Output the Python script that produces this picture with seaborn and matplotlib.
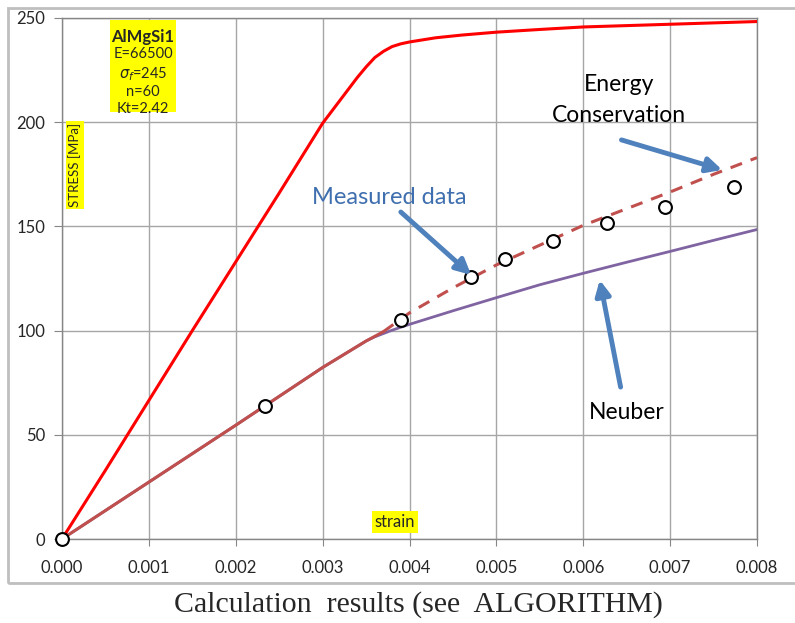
import numpy as np
import pandas as pd
import matplotlib
matplotlib.use("Agg")
import matplotlib.pyplot as plt
import seaborn as sns
from matplotlib.patches import Rectangle

# Data

# material curve (red)
mat_strain = [0, 0.0005, 0.001, 0.0015, 0.002, 0.0025, 0.003, 0.0032, 0.0033, 0.0034, 0.0035,
              0.0036, 0.0037, 0.0038, 0.0039, 0.004, 0.0043, 0.0046, 0.005, 0.0055, 0.006, 0.007, 0.008]
mat_stress = [0, 33, 66.5, 100, 133, 166, 199.5, 210.5, 216, 221.5, 226.5,
              231, 234, 236.3, 237.6, 238.5, 240.5, 241.8, 243.2, 244.5, 245.7, 247, 248.3]

# energy conservation (brown, solid then dashed)
ec_strain = [0, 0.001, 0.002, 0.003, 0.0035, 0.0037, 0.004, 0.0045, 0.005, 0.0055,
             0.006, 0.0065, 0.007, 0.0075, 0.008]
ec_stress = [0, 27.3, 54.6, 82.3, 95, 99.5, 108.5, 120.5, 131.5, 141,
             150.5, 158.5, 166.5, 175, 183]
ec_split = 0.0037

# Neuber (purple)
nb_strain = [0, 0.001, 0.002, 0.003, 0.0035, 0.0036, 0.0038, 0.004, 0.0045, 0.005, 0.0055,
             0.006, 0.0065, 0.007, 0.0075, 0.008]
nb_stress = [0, 27.3, 54.6, 82.3, 95, 97, 100.2, 103, 109.5, 115.8, 122,
             127.5, 132.8, 138, 143.3, 148.5]

# measured points
meas_strain = [0, 0.00234, 0.0039, 0.00471, 0.0051, 0.00565, 0.00627, 0.00694, 0.00774]
meas_stress = [0, 63.8, 105, 125.7, 134.4, 143, 151.6, 159.3, 168.9]

x_ticks = [0, 0.001, 0.002, 0.003, 0.004, 0.005, 0.006, 0.007, 0.008]
y_ticks = [0, 50, 100, 150, 200, 250]

mat_props = ["AlMgSi1", "E=66500", r"$\sigma_f$=245", "n=60", "Kt=2.42"]

# Plot

sns.set_style("white")
plt.rcParams['font.family'] = ['Lato', 'DejaVu Sans']
plt.rcParams['mathtext.fontset'] = 'dejavusans'

fig = plt.figure(figsize=(7.95, 6.23), dpi=100)
ax = fig.add_axes([62/795, 84/623, 695/795, 521/623])

# chart frame
fig.patches.append(Rectangle((8/795, 40/623), 1.1, 575/623, transform=fig.transFigure,
                             fill=False, edgecolor="#BFBFBF", linewidth=2, zorder=0))

ec = pd.DataFrame({"strain": ec_strain, "stress": ec_stress})
ec_solid = ec[ec.strain <= ec_split]
ec_dash = ec[ec.strain >= ec_split]

sns.lineplot(x=nb_strain, y=nb_stress, color="#8064A2", linewidth=2, ax=ax, zorder=3)
sns.lineplot(data=ec_solid, x="strain", y="stress", color="#C0504D", linewidth=2.2, ax=ax, zorder=4)
sns.lineplot(data=ec_dash, x="strain", y="stress", color="#C0504D", linewidth=2.2,
             dashes=False, ax=ax, zorder=4, linestyle=(0, (4, 3)))
sns.lineplot(x=mat_strain, y=mat_stress, color="#FF0000", linewidth=2.2, ax=ax, zorder=5)
sns.scatterplot(x=meas_strain, y=meas_stress, s=85, facecolor="white", edgecolor="black",
                linewidth=1.5, ax=ax, zorder=6, clip_on=False)

ax.set_xlim(0, 0.008)
ax.set_ylim(0, 250)
ax.set_xticks(x_ticks)
ax.set_xticklabels([f"{t:.3f}" for t in x_ticks])
ax.set_yticks(y_ticks)
ax.set_xlabel("")
ax.set_ylabel("")
ax.grid(True, color="#A6A6A6", linewidth=1)
for s in ax.spines.values():
    s.set_color("#868686")
    s.set_linewidth(1)
ax.tick_params(axis="x", direction="out", length=5, color="#868686", pad=10, labelsize=12)
ax.tick_params(axis="y", direction="out", length=6, color="#868686", pad=6, labelsize=12)
ax.tick_params(bottom=True, left=True)

# annotations
arrow = dict(arrowstyle="-|>,head_length=0.9,head_width=0.45", color="#4F81BD", lw=3.5,
             shrinkA=0, shrinkB=0)
ax.annotate("", xy=(0.00471, 126.7), xytext=(0.0039, 156.9), arrowprops=arrow, zorder=7)
ax.annotate("", xy=(0.0076, 177.1), xytext=(0.00644, 191.5), arrowprops=arrow, zorder=7)
ax.annotate("", xy=(0.00619, 124.3), xytext=(0.00643, 72.9), arrowprops=arrow, zorder=7)

ax.text(0.00641, 210.6, "Energy\nConservation", ha="center", va="center", fontsize=16.5,
        linespacing=1.55, color="black")
ax.text(0.003765, 164.1, "Measured data", ha="center", va="center", fontsize=17, color="#3F6FAE")
ax.text(0.0065, 60.5, "Neuber", ha="center", va="center", fontsize=16.5, color="black")

# material box
ax.add_patch(Rectangle((0.069, 0.8196), 0.095, 0.1764, transform=ax.transAxes,
                       facecolor="#FFFF00", edgecolor="none", zorder=8))
line_y = [0.9635, 0.9309, 0.8925, 0.8580, 0.8253]
for i, (txt, yy) in enumerate(zip(mat_props, line_y)):
    ax.text(0.1165, yy, txt, transform=ax.transAxes, ha="center", va="center",
            fontsize=12 if i == 0 else 10.5, fontweight="bold" if i == 0 else "normal", zorder=9)

ax.text(0.0187, 0.718, "STRESS [MPa]", transform=ax.transAxes, rotation=90, ha="center",
        va="center", fontsize=9.5, zorder=9,
        bbox=dict(facecolor="#FFFF00", edgecolor="none", pad=1.5))
ax.text(0.479, 0.033, "strain", transform=ax.transAxes, ha="center", va="center",
        fontsize=12, zorder=9, bbox=dict(facecolor="#FFFF00", edgecolor="none", pad=2))

fig.text(418/795, 1 - 605/623, "Calculation  results (see  ALGORITHM)", ha="center",
         va="center", fontsize=21.5, family="Liberation Serif")

plt.savefig("out.png", dpi=100)
